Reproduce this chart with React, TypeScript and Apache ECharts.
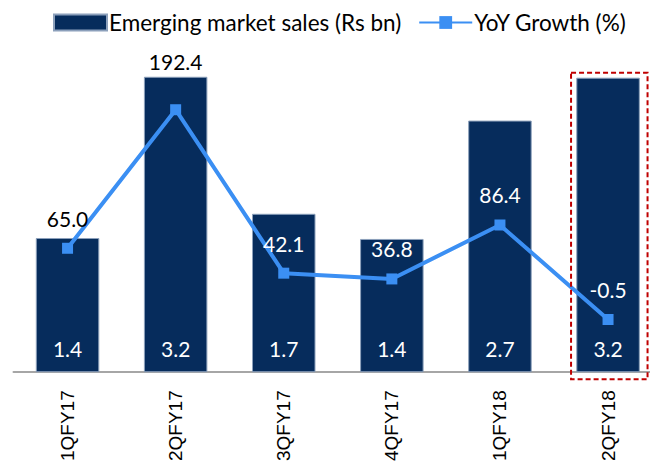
import React, { useEffect, useRef } from "react";
import * as echarts from "echarts";

const categories = ["1QFY17", "2QFY17", "3QFY17", "4QFY17", "1QFY18", "2QFY18"];
const salesRsBn = [1.44, 3.17, 1.7, 1.43, 2.7, 3.16];
const yoyGrowthPct = [65.0, 192.4, 42.1, 36.8, 86.4, -0.5];
const highlightedCategory = "2QFY18";

const salesName = "Emerging market sales (Rs bn)";
const growthName = "YoY Growth (%)";

const SALES_MIN = 0;
const SALES_MAX = 3.5;
const GROWTH_MIN = -49;
const GROWTH_MAX = 251;

const GRID_TOP = 46;
const GRID_HEIGHT = 328;
const LABEL_DIST = 14;
const PEAK_LABEL_DIST = 32;
const BAR_COLOR = "#062C5C";
const LINE_COLOR = "#3B8FF3";
const LABEL_FONT = "Lato";

export default function App() {
  const ref = useRef<HTMLDivElement>(null);

  useEffect(() => {
    if (!ref.current) return;
    const chart = echarts.init(ref.current, undefined, { renderer: "svg" });

    const peak = Math.max(...yoyGrowthPct);
    const lineData = yoyGrowthPct.map((v, i) => {
      const dist = v === peak ? PEAK_LABEL_DIST : LABEL_DIST;
      const rise = dist + 18; // symbol half-size + half label height
      const labelFrac = (v - GROWTH_MIN) / (GROWTH_MAX - GROWTH_MIN) + rise / GRID_HEIGHT;
      const barFrac = (salesRsBn[i] - SALES_MIN) / (SALES_MAX - SALES_MIN);
      const onBar = labelFrac < barFrac;
      return { value: v, label: { color: onBar ? "#ffffff" : "#000000", distance: dist } };
    });

    chart.setOption({
      animation: false,
      backgroundColor: "#ffffff",
      legend: {
        left: 53,
        top: 11,
        padding: 0,
        itemWidth: 53,
        itemHeight: 16,
        itemGap: 17,
        textStyle: { fontFamily: LABEL_FONT, fontSize: 22.5, color: "#000000", padding: [0, 0, 0, -3] },
        data: [{ name: salesName, icon: "rect" }, { name: growthName }],
      },
      grid: { left: 13.5, top: GRID_TOP, width: 648.6, height: GRID_HEIGHT },
      xAxis: {
        type: "category",
        data: categories,
        axisLine: { lineStyle: { color: "#A6A6A6", width: 2 } },
        axisTick: { show: false },
        axisLabel: {
          rotate: 90,
          margin: 18,
          fontFamily: "Liberation Sans",
          fontSize: 19,
          color: "#000000",
        },
      },
      yAxis: [
        { type: "value", min: SALES_MIN, max: SALES_MAX, show: false },
        { type: "value", min: GROWTH_MIN, max: GROWTH_MAX, show: false },
      ],
      series: [
        {
          name: salesName,
          type: "bar",
          data: salesRsBn,
          barWidth: 63.5,
          itemStyle: { color: BAR_COLOR, borderColor: "#8CA0BB", borderWidth: 1 },
          label: {
            show: true,
            position: "insideBottom",
            distance: 13,
            color: "#ffffff",
            fontFamily: LABEL_FONT,
            fontSize: 21,
            formatter: (p: any) => Number(p.value).toFixed(1),
          },
        },
        {
          name: growthName,
          type: "line",
          yAxisIndex: 1,
          data: lineData,
          symbol: "rect",
          symbolSize: 11,
          lineStyle: { color: LINE_COLOR, width: 4 },
          itemStyle: { color: LINE_COLOR },
          z: 5,
          label: {
            show: true,
            position: "top",
            fontFamily: LABEL_FONT,
            fontSize: 21,
            formatter: (p: any) => Number(p.value).toFixed(1),
          },
        },
      ],
    });

    const idx = categories.indexOf(highlightedCategory);
    const top = chart.convertToPixel({ xAxisIndex: 0, yAxisIndex: 0 }, [idx, salesRsBn[idx]]) as number[];
    const base = chart.convertToPixel({ xAxisIndex: 0, yAxisIndex: 0 }, [idx, 0]) as number[];
    chart.setOption({
      graphic: [
        {
          type: "rect",
          shape: { x: top[0] - 37, y: top[1] - 5, width: 76.5, height: base[1] - top[1] + 12 },
          style: { fill: "none", stroke: "#C00000", lineWidth: 2, lineDash: [5, 3] },
          z: 10,
        },
      ],
    });

    return () => chart.dispose();
  }, []);

  return (
    <div style={{ position: "absolute", left: 0, top: 0, width: 650, height: 464, overflow: "hidden", background: "#fff" }}>
      <div ref={ref} style={{ width: 680, height: 464 }} />
    </div>
  );
}
